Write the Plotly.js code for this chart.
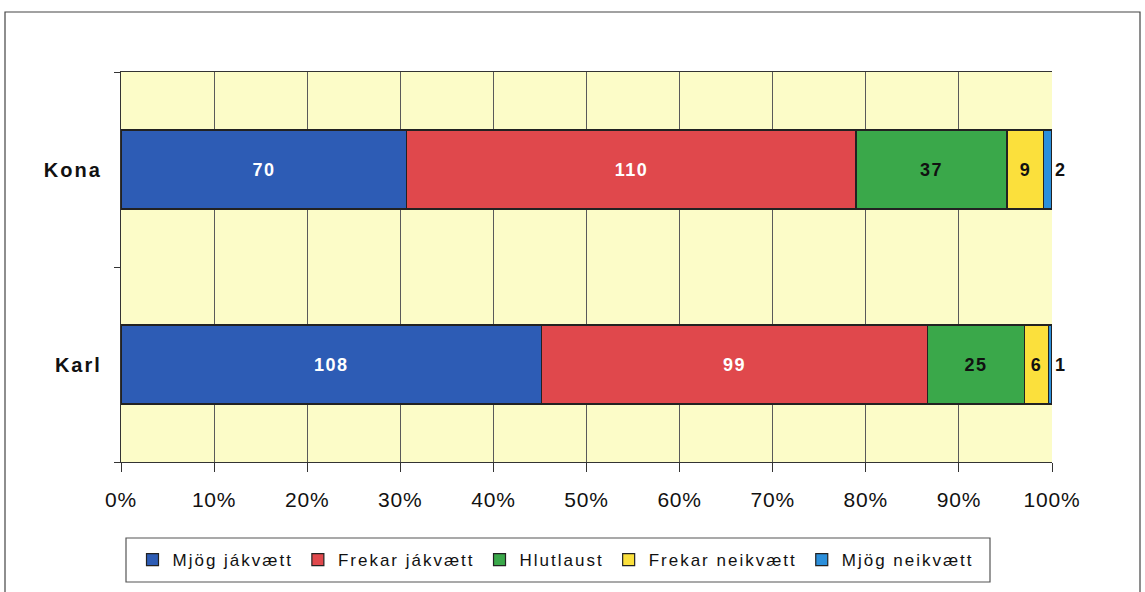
<!DOCTYPE html>
<html>
<head>
<meta charset="utf-8">
<script src="https://cdn.plot.ly/plotly-3.0.1.min.js"></script>
<style>
html,body{margin:0;padding:0;background:#fff;}
#chart{width:1145px;height:592px;}
.ytick text{letter-spacing:2px;}
.xtick text{letter-spacing:0.8px;}
.bartext{letter-spacing:1.5px;}
.legendtext{letter-spacing:2px;}
</style>
</head>
<body>
<div id="chart"></div>
<script>
const categories = ["Karl", "Kona"];
const seriesNames = ["Mjög jákvætt", "Frekar jákvætt", "Hlutlaust", "Frekar neikvætt", "Mjög neikvætt"];
const mjogJakvaett = [108, 70];
const frekarJakvaett = [99, 110];
const hlutlaust = [25, 37];
const frekarNeikvaett = [6, 9];
const mjogNeikvaett = [1, 2];
const tickVals = [0, 10, 20, 30, 40, 50, 60, 70, 80, 90, 100];
const tickText = ["0%", "10%", "20%", "30%", "40%", "50%", "60%", "70%", "80%", "90%", "100%"];

const seriesValues = [mjogJakvaett, frekarJakvaett, hlutlaust, frekarNeikvaett, mjogNeikvaett];
const colors = ["#2d5cb5", "#e0484c", "#3aa84a", "#fbe03c", "#2b8fdb"];
const textColors = ["#ffffff", "#ffffff", "#111111", "#111111", "#111111"];

const traces = seriesValues.map((vals, i) => ({
  type: "bar",
  orientation: "h",
  name: seriesNames[i],
  y: categories,
  x: vals,
  text: vals.map(String),
  texttemplate: "%{text}",
  textposition: i === 4 ? "outside" : "inside",
  insidetextanchor: "middle",
  constraintext: "none",
  cliponaxis: false,
  textfont: {family: "Liberation Sans, Arial, sans-serif", size: 18, color: textColors[i], weight: "bold"},
  marker: {color: colors[i], line: {color: "#222", width: 1.2}},
  hoverinfo: "skip"
}));

const pxL = 121, pxR = 1052, pxT = 72, pxB = 462;
const W = pxR - pxL, H = pxB - pxT;
const px2x = p => (p - pxL) / W;
const py2y = p => (pxB - p) / H;

const layout = {
  width: 1145, height: 592,
  margin: {l: pxL, r: 1145 - pxR, t: pxT, b: 592 - pxB, pad: 0},
  paper_bgcolor: "#ffffff",
  plot_bgcolor: "#fcfcc8",
  barmode: "stack",
  barnorm: "percent",
  bargap: 0.595,
  showlegend: true,
  font: {family: "Liberation Sans, Arial, sans-serif", color: "#111"},
  xaxis: {
    range: [0, 100], tickvals: tickVals, ticktext: tickText,
    showgrid: true, gridcolor: "#5a5a5a", gridwidth: 1,
    showline: true, linecolor: "#333", linewidth: 1.2, mirror: true,
    ticks: "outside", ticklen: 9, tickcolor: "#333",
    tickfont: {size: 21, color: "#111"},
    ticklabelstandoff: 10,
    zeroline: false, fixedrange: true
  },
  yaxis: {
    type: "category", categoryorder: "array", categoryarray: categories,
    showline: true, linecolor: "#333", linewidth: 1.2,
    ticks: "outside", ticklen: 6, tickcolor: "#333", tickson: "boundaries",
    tickfont: {size: 20, color: "#111", weight: "bold"},
    ticklabelstandoff: 14,
    showgrid: false, zeroline: false, fixedrange: true
  },
  legend: {
    orientation: "h", traceorder: "normal",
    x: px2x(556), xanchor: "center",
    y: py2y(560), yanchor: "middle",
    bgcolor: "rgba(0,0,0,0)", borderwidth: 0,
    font: {size: 17, color: "#111"},
    itemwidth: 30
  },
  shapes: [
    {
      type: "rect", xref: "paper", yref: "paper",
      x0: px2x(5), x1: px2x(1140), y0: py2y(600), y1: py2y(12),
      line: {color: "#444", width: 1.2}, fillcolor: "rgba(0,0,0,0)", layer: "below"
    },
    {
      type: "rect", xref: "paper", yref: "paper",
      x0: px2x(126), x1: px2x(990), y0: py2y(582), y1: py2y(538),
      line: {color: "#555", width: 1.2}, fillcolor: "#ffffff", layer: "below"
    }
  ]
};

Plotly.newPlot("chart", traces, layout, {displayModeBar: false, staticPlot: true});
</script>
</body>
</html>
